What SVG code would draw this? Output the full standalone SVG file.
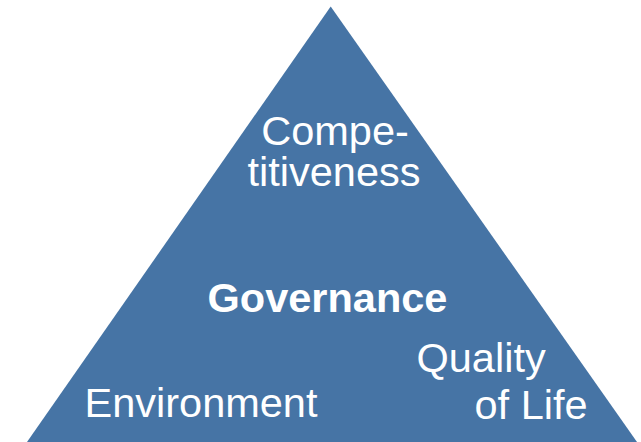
<svg xmlns="http://www.w3.org/2000/svg" width="641" height="442" viewBox="0 0 641 442">
<style>
.t{font-family:"Liberation Sans",Arial,sans-serif;font-size:41.5px;fill:#ffffff}
.b{font-weight:bold}
</style>
<rect width="641" height="442" fill="#ffffff"/>
<g id="pyramid">
<polygon points="330.7,6.5 637,442 27,442" fill="#4674A5"/>
</g>
<g id="competitiveness">
<text class="t" x="335" y="144.5" text-anchor="middle">Compe-</text>
<text class="t" x="334" y="185.5" text-anchor="middle">titiveness</text>
</g>
<g id="governance">
<text class="t b" x="327.5" y="311.5" text-anchor="middle">Governance</text>
</g>
<g id="environment">
<text class="t" x="84.5" y="417">Environment</text>
</g>
<g id="quality">
<text class="t" x="416.5" y="371.5">Quality</text>
<text class="t" x="474.5" y="418.5">of Life</text>
</g>
<g id="connectors"/>
</svg>
